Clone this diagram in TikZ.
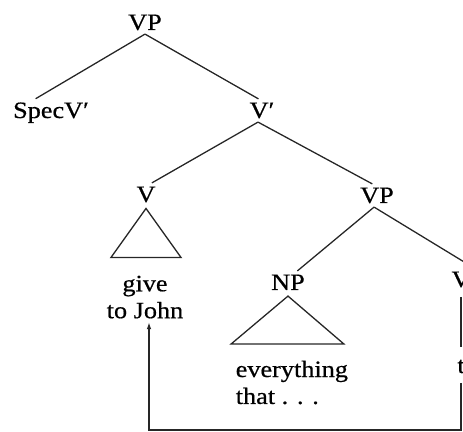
\documentclass[tikz,border=0pt]{standalone}
\usepackage{fontspec}
\setmainfont{Liberation Serif}[FakeStretch=1.12, FakeBold=0.6]
\usetikzlibrary{calc,arrows.meta}

\tikzset{
  cat/.style={font=\fontsize{20}{23}\selectfont, inner sep=3pt, anchor=base},
  words/.style={font=\fontsize{20}{23}\selectfont, inner sep=3pt},
  branch/.style={line width=1.1pt, draw=black!85},
  move/.style={branch, -{Latex[length=6pt,width=4pt]}},
}

\begin{document}
\begin{tikzpicture}[x=0.03cm, y=-0.03cm]
\useasboundingbox (0,0) rectangle (463,432);

% categories
\node[cat] (vp)   at (145,30)  {VP};
\node[cat] (spec) at (51,118)  {SpecV′};
\node[cat] (vbar) at (262,118) {V′};
\node[cat] (v)    at (146,202) {V};
\node[cat] (vp2)  at (377,203) {VP};
\node[cat] (np)   at (288,290) {NP};
\node[cat] (vr)   at (461,287) {V};
\node[cat] (t)    at (461,373) {t};

% terminal strings
\node[words, align=center, anchor=north] (give) at (145,272) {give\\to John};
\node[words, align=left, anchor=north west] (every) at (232,357) {everything\\that . . .};

% branches
\draw[branch] (vp.south) -- ($(spec.north)!0.37!(spec.north west)$);
\draw[branch] (vp.south) -- ([xshift=-3pt]vbar.north);
\draw[branch] ([xshift=-3.4pt]vbar.south) -- ([xshift=5pt]v.north);
\draw[branch] ([xshift=-3.4pt]vbar.south) -- ([xshift=-4pt]vp2.north);
\draw[branch] ([xshift=-2.5pt]vp2.south) -- ([xshift=8pt]np.north);
\draw[branch] ([xshift=-2.5pt]vp2.south) -- ([xshift=11pt]vr.north);
\draw[branch, shorten <=5pt, shorten >=8pt] (vr.south) -- (t.north);

% triangles
\draw[branch] ([yshift=-2pt]v.south) -- ++(-35,49) -- ++(70,0) -- cycle;
\draw[branch] ([yshift=-2pt]np.south) -- ++(-57,48) -- ++(113,0) -- cycle;

% movement
\coordinate (bend) at (149,430);
\draw[move, shorten <=5pt] (t.south) |- (bend) -- (bend |- give.south);
\end{tikzpicture}
\end{document}
